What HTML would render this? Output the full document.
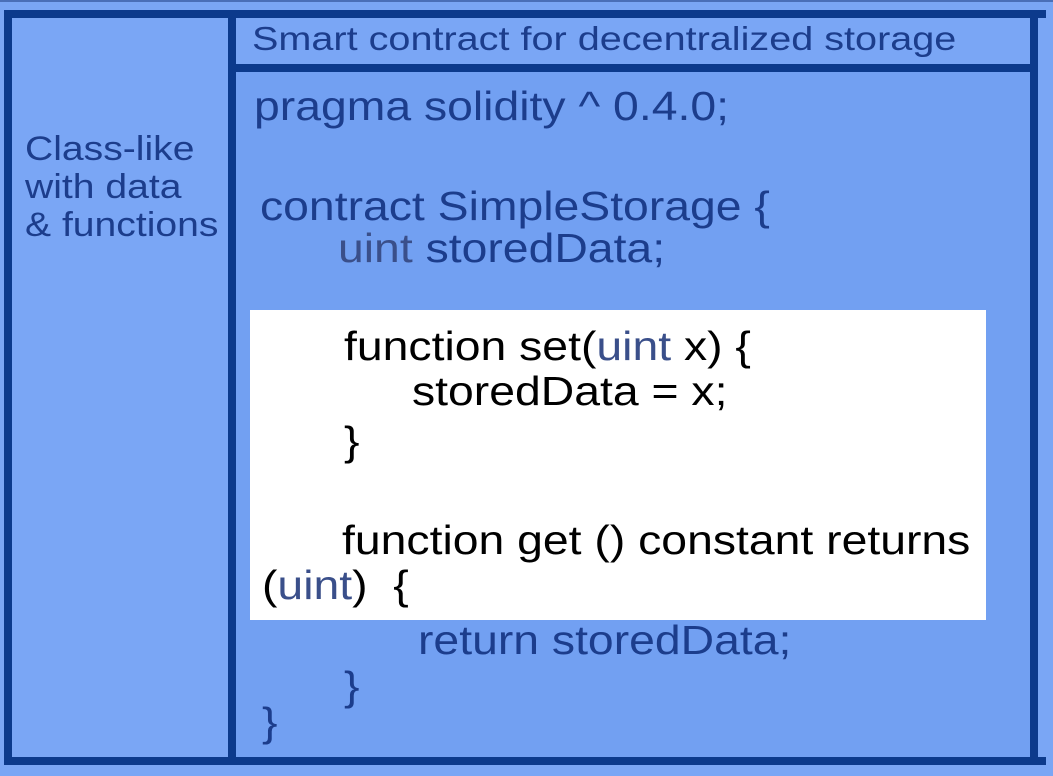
<!DOCTYPE html>
<html><head><style>
body{margin:0;width:1053px;height:776px;background:#7aa6f5;position:relative;overflow:hidden;font-family:"Liberation Sans",sans-serif;}
.t{position:absolute;white-space:pre;line-height:1;transform-origin:0 0;transform:scaleX(1.13);}
.b{position:absolute;background:#0c3a8c;}
.c{color:#1c3d8c;font-size:41px;}
.k{color:#000;font-size:41px;}
.u{color:#3a4f8a;}
</style></head><body>
<div style="position:absolute;left:0;top:0;width:1053px;height:2px;background:#4a6fb8"></div>
<div style="position:absolute;left:236px;top:72px;width:794px;height:685px;background:#72a0f2"></div>
<div class="b" style="left:4px;top:10px;width:1042px;height:8px"></div>
<div class="b" style="left:4px;top:757px;width:1042px;height:8px"></div>
<div class="b" style="left:4px;top:10px;width:8px;height:755px"></div>
<div class="b" style="left:1030px;top:10px;width:8px;height:755px"></div>
<div class="b" style="left:228px;top:10px;width:8px;height:755px"></div>
<div class="b" style="left:228px;top:64px;width:810px;height:8px"></div>
<div style="position:absolute;left:250px;top:310px;width:736px;height:310px;background:#fff"></div>
<div class="t" style="left:252px;top:22px;font-size:33px;color:#1c3d8c;transform:scaleX(1.2)">Smart contract for decentralized storage</div>
<div class="t" style="left:25px;top:130px;font-size:34px;color:#1c3d8c;line-height:38px;transform:scaleX(1.15)">Class-like
with data
&amp; functions</div>
<div class="t c" style="left:254px;top:86px">pragma solidity ^ 0.4.0;</div>
<div class="t c" style="left:260px;top:186px">contract SimpleStorage {</div>
<div class="t c" style="left:338px;top:228px"><span class="u">uint</span> storedData;</div>
<div class="t k" style="left:344px;top:326px">function set(<span class="u">uint</span> x) {</div>
<div class="t k" style="left:412px;top:371px">storedData = x;</div>
<div class="t k" style="left:344px;top:421px">}</div>
<div class="t k" style="left:342px;top:520px">function get () constant returns</div>
<div class="t k" style="left:262px;top:565px">(<span class="u">uint</span>)  {</div>
<div class="t c" style="left:418px;top:620px">return storedData;</div>
<div class="t c" style="left:344px;top:666px">}</div>
<div class="t c" style="left:262px;top:702px">}</div>
</body></html>
